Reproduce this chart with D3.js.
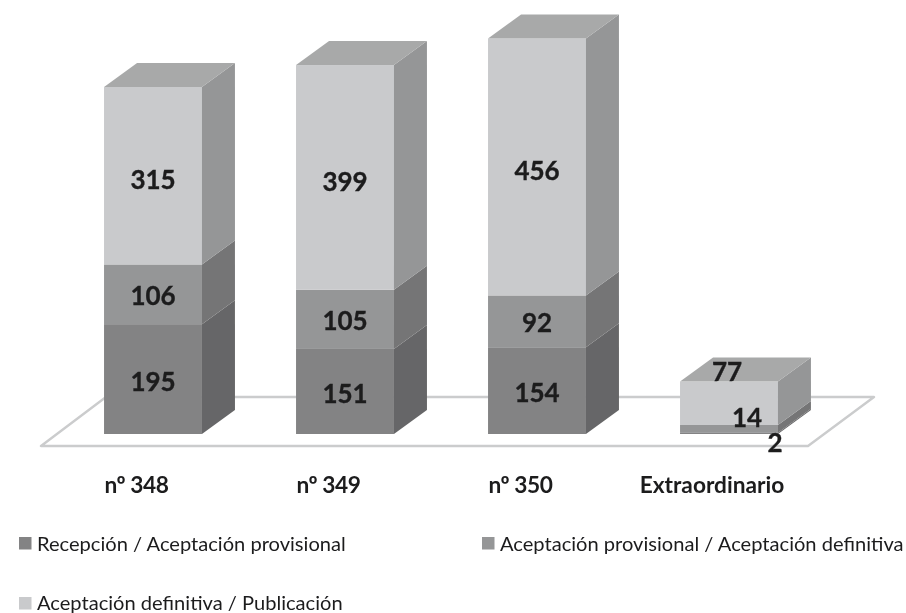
<!DOCTYPE html>
<html><head><meta charset="utf-8">
<script src="https://cdn.jsdelivr.net/npm/d3@7"></script>
<style>html,body{margin:0;padding:0;background:#fff}svg{display:block}text{font-family:Lato,sans-serif;fill:#1c1c1e}</style>
</head><body><svg id="c" width="906" height="613"></svg>
<script>
const categories = ["nº 348","nº 349","nº 350","Extraordinario"];
const seriesNames = ["Recepción / Aceptación provisional","Aceptación provisional / Aceptación definitiva","Aceptación definitiva / Publicación"];
const recepcion = [195,151,154,2];
const provisional = [106,105,92,14];
const definitiva = [315,399,456,77];
const seriesValues = [recepcion,provisional,definitiva];

const frontColors = ["#838384","#959697","#c9cacc"];
const sideColors = ["#666667","#757576","#959697"];
const topColor = "#a8a9a9";
const depthX = 33, depthY = 24;

const svg = d3.select("#c");
const defs = svg.append("defs");
defs.append("filter").attr("id","soft").attr("x",0).attr("y",0).attr("width","100%").attr("height","100%")
  .append("feGaussianBlur").attr("stdDeviation",0.45);
const root = svg.append("g").attr("filter","url(#soft)");
root.append("rect").attr("width",906).attr("height",613).attr("fill","#fff");

const x = d3.scaleBand().domain(categories).range([57,825]).paddingInner(0.49).paddingOuter(0.245);
const y = d3.scaleLinear().domain([0,616]).range([434,87]);

// floor
const floor = [[41,446],[808,446],[874,397],[106,397]];
root.append("path").attr("d",d3.line()(floor)+"Z").attr("fill","#fff")
  .attr("stroke","#cbcccd").attr("stroke-width",2.4).attr("stroke-linejoin","round");

const rows = categories.map((c,i)=>{const r={cat:c};seriesNames.forEach((s,j)=>r[s]=seriesValues[j][i]);return r;});
const stacked = d3.stack().keys(seriesNames)(rows);

stacked.forEach((layer,j)=>{
  const g = root.append("g");
  g.selectAll("rect").data(layer).join("rect")
    .attr("x",d=>x(d.data.cat)).attr("width",x.bandwidth())
    .attr("y",d=>y(d[1])).attr("height",d=>y(d[0])-y(d[1]))
    .attr("fill",frontColors[j]);
  g.selectAll("path").data(layer).join("path")
    .attr("fill",sideColors[j])
    .attr("d",d=>{
      const r=x(d.data.cat)+x.bandwidth();
      return d3.line()([[r,y(d[1])],[r+depthX,y(d[1])-depthY],[r+depthX,y(d[0])-depthY],[r,y(d[0])]])+"Z";
    });
});
// top faces
root.append("g").selectAll("path").data(stacked[2]).join("path")
  .attr("fill",topColor)
  .attr("d",d=>{
    const l=x(d.data.cat), r=l+x.bandwidth(), t=y(d[1]);
    return d3.line()([[l,t],[l+depthX,t-depthY],[r+depthX,t-depthY],[r,t]])+"Z";
  });

// value labels (Extraordinario labels are moved off their segments, as in the reference)
const moved = {"Extraordinario":[[46,9],[18,-12],[-2,-32]]};
const nudgeY = [1.5,1,3.5];
stacked.forEach((layer,j)=>{
  root.append("g").selectAll("text").data(layer).join("text")
    .attr("text-anchor","middle").attr("dominant-baseline","central")
    .attr("font-size",26).attr("font-weight",700)
    .attr("stroke","#1c1c1e").attr("stroke-width",0.35)
    .attr("x",d=>x(d.data.cat)+x.bandwidth()/2+(moved[d.data.cat]?moved[d.data.cat][j][0]:0))
    .attr("y",d=>(y(d[0])+y(d[1]))/2+(moved[d.data.cat]?moved[d.data.cat][j][1]:nudgeY[j]))
    .text((d,i)=>seriesValues[j][i]);
});

// category axis
const axis = root.append("g").attr("transform","translate(-16.5,477)")
  .call(d3.axisBottom(x).tickSize(0).tickPadding(0));
axis.select(".domain").remove();
axis.selectAll("text").style("font-family","Lato,sans-serif").style("fill","#1c1c1e")
  .attr("font-size",null).style("font-size","22.7px").style("font-weight",700)
  .style("letter-spacing",d=>d==="Extraordinario"?"0":"-0.4px")
  .attr("dx",d=>d==="Extraordinario"?-0.5:0);

// legend
const legendPos = [[19,543],[482,543],[19,603]];
const lg = root.append("g").selectAll("g").data(seriesNames).join("g")
  .attr("transform",(d,i)=>`translate(${legendPos[i][0]},${legendPos[i][1]})`);
lg.append("rect").attr("y",-6).attr("width",12.5).attr("height",12.5).attr("fill",(d,i)=>frontColors[i]);
lg.append("text").attr("x",18).attr("y",(d,i)=>i===2?-1.5:0).attr("dominant-baseline","central").attr("font-size",20.1).text(d=>d);
</script></body></html>
